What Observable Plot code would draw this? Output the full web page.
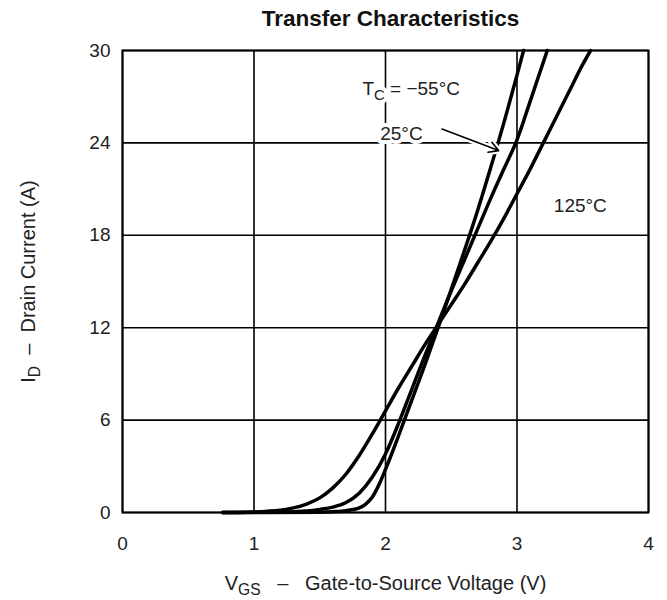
<!DOCTYPE html>
<html><head><meta charset="utf-8">
<script src="https://cdn.jsdelivr.net/npm/d3@7"></script>
<script src="https://cdn.jsdelivr.net/npm/@observablehq/plot@0.6"></script>
<style>
body{margin:0;background:#fff;font-family:"Liberation Sans",Arial,sans-serif;}
#title{height:34px;box-sizing:border-box;padding-top:4px;padding-left:114px;width:667px;text-align:center;font-weight:bold;font-size:22.5px;line-height:30px;color:#111;}
</style></head><body>
<div id="title">Transfer Characteristics</div>
<div id="chart"></div>
<script>
// ---- data ----
const xTicks = [0, 1, 2, 3, 4];
const yTicks = [0, 6, 12, 18, 24, 30];

const vgs125 = [0.76, 1.0, 1.1, 1.2, 1.3, 1.4, 1.5, 1.6, 1.7, 1.8, 1.9, 2.0, 2.1, 2.2, 2.3, 2.4, 2.5, 2.6, 2.7, 2.8, 2.9, 3.0, 3.1, 3.2, 3.3, 3.4, 3.5, 3.56];
const id125  = [0, 0.03, 0.08, 0.15, 0.3, 0.55, 0.95, 1.6, 2.5, 3.7, 5.1, 6.6, 8.1, 9.5, 10.9, 12.2, 13.5, 14.8, 16.2, 17.6, 19.1, 20.7, 22.3, 24.0, 25.7, 27.4, 29.1, 30];

const vgs25 = [0.76, 1.2, 1.4, 1.5, 1.6, 1.7, 1.8, 1.9, 2.0, 2.1, 2.2, 2.3, 2.4, 2.5, 2.6, 2.7, 2.8, 2.9, 3.0, 3.1, 3.23];
const id25  = [0, 0.03, 0.1, 0.2, 0.35, 0.65, 1.25, 2.3, 3.8, 5.8, 8.0, 10.2, 12.3, 14.4, 16.4, 18.4, 20.4, 22.3, 24.2, 26.7, 30];

const vgsM55 = [0.76, 1.5, 1.6, 1.7, 1.8, 1.85, 1.9, 1.95, 2.0, 2.1, 2.2, 2.3, 2.4, 2.5, 2.6, 2.7, 2.8, 2.9, 3.0, 3.05];
const idM55  = [0, 0.02, 0.05, 0.12, 0.3, 0.55, 1.0, 1.8, 2.8, 5.0, 7.3, 9.6, 12.0, 14.5, 17.0, 19.6, 22.4, 25.3, 28.4, 30];

const annText = ["T_{C} = \u221255°C", "25°C", "125°C"];
const annX = [1.825, 1.96, 3.28];
const annY = [27.5, 24.6, 19.9];

const arrowFrom = [2.43, 24.9];
const arrowTo = [2.86, 23.5];

const xLabel = "V_{GS}\u00A0\u00A0\u00A0\u2013\u00A0\u00A0\u00A0Gate-to-Source Voltage (V)";
const yLabel = "I_{D}\u00A0\u00A0\u2013\u00A0\u00A0Drain Current (A)";

// ---- build table ----
const rows = [];
[["125", vgs125, id125], ["25", vgs25, id25], ["-55", vgsM55, idM55]].forEach(([tc, xs, ys]) => {
  xs.forEach((v, i) => rows.push({tc, vgs: v, id: ys[i]}));
});
const ann = annText.map((t, i) => ({text: t, x: annX[i], y: annY[i]}));
const arr = [{x1: arrowFrom[0], y1: arrowFrom[1], x2: arrowTo[0], y2: arrowTo[1]}];

const chart = Plot.plot({
  width: 667, height: 566,
  marginTop: 16, marginBottom: 88, marginLeft: 122, marginRight: 19,
  style: {fontFamily: "'Liberation Sans', Arial, sans-serif", fontSize: "19px", color: "#222", background: "white"},
  x: {domain: [0, 4], ticks: xTicks, tickFormat: "d", tickSize: 0, tickPadding: 24, label: null},
  y: {domain: [0, 30], ticks: yTicks, tickFormat: "d", tickSize: 0, tickPadding: 12, label: null},
  marks: [
    Plot.gridX(xTicks, {stroke: "#000", strokeOpacity: 1, strokeWidth: 1.6}),
    Plot.gridY(yTicks, {stroke: "#000", strokeOpacity: 1, strokeWidth: 1.6}),
    Plot.frame({stroke: "#000", strokeWidth: 2}),
    Plot.line(rows, {x: "vgs", y: "id", z: "tc", curve: "monotone-x", stroke: "#000", strokeWidth: 3.5}),
    Plot.arrow(arr, {x1: "x1", y1: "y1", x2: "x2", y2: "y2", stroke: "white", strokeWidth: 6, headLength: 10}),
    Plot.arrow(arr, {x1: "x1", y1: "y1", x2: "x2", y2: "y2", stroke: "#000", strokeWidth: 1.6, headLength: 10}),
    Plot.text(ann, {x: "x", y: "y", text: "text", textAnchor: "start", lineAnchor: "middle", fill: "#222", stroke: "white", strokeWidth: 8, fontSize: 19}),
    Plot.text([yLabel], {text: d => d, frameAnchor: "left", rotate: -90, dx: -94, textAnchor: "middle", lineAnchor: "middle", fill: "#222", fontSize: 20}),
    Plot.text([xLabel], {text: d => d, frameAnchor: "bottom", dy: 71, textAnchor: "middle", lineAnchor: "middle", fill: "#222", fontSize: 20})
  ]
});

// subscripts
d3.select(chart).selectAll("text").each(function() {
  const s = this.textContent;
  if (!s.includes("_{")) return;
  const parts = s.split(/_\{([^}]*)\}/);
  while (this.firstChild) this.removeChild(this.firstChild);
  let shifted = false;
  parts.forEach((p, i) => {
    if (!p) return;
    const ts = d3.select(this).append("tspan").text(p);
    if (i % 2 === 1) {
      ts.attr("font-size", "0.78em").attr("dy", 5);
      shifted = true;
    } else if (shifted) {
      ts.attr("dy", -5);
      shifted = false;
    }
  });
});

document.getElementById("chart").appendChild(chart);
</script>
</body></html>
